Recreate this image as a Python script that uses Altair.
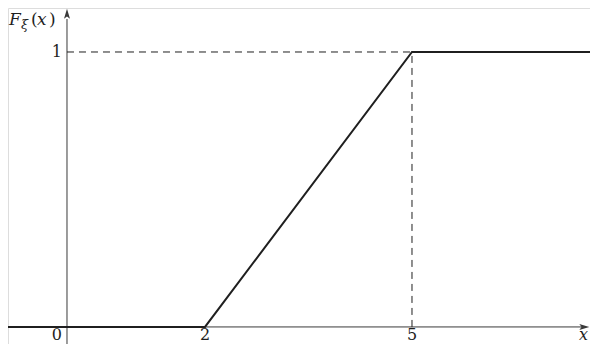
import altair as alt
import pandas as pd

# ---- data ----
X_MIN, X_MAX = -0.855, 7.58
Y_MIN, Y_MAX = -0.062, 1.16

cdf_x = [X_MIN, 2, 5, X_MAX]
cdf_y = [0, 0, 1, 1]

xtick_vals = [2, 5]
xtick_text = ["2", "5"]
origin_text = ["0"]
ytick_vals = [1]
ytick_text = ["1"]

FONT = "DejaVu Serif"
INK = "#1f1f1f"
AXIS = "#3a3a3a"

xs = alt.Scale(domain=[X_MIN, X_MAX], nice=False, zero=False)
ys = alt.Scale(domain=[Y_MIN, Y_MAX], nice=False, zero=False)


def X(f="x"):
    return alt.X(f"{f}:Q", scale=xs, axis=None)


def Y(f="y"):
    return alt.Y(f"{f}:Q", scale=ys, axis=None)


# axes lines
xaxis = alt.Chart(pd.DataFrame({"x": [X_MIN], "x2": [7.50], "y": [0]})).mark_rule(
    color=AXIS, strokeWidth=1
).encode(x=X(), x2="x2:Q", y=Y())
yaxis = alt.Chart(pd.DataFrame({"x": [0], "y": [Y_MIN], "y2": [1.12]})).mark_rule(
    color=AXIS, strokeWidth=1
).encode(x=X(), y=Y(), y2="y2:Q")

# arrowheads (tip at the given point)
arrow_r = alt.Chart(pd.DataFrame({"x": [7.57], "y": [0]})).mark_point(
    shape="M0,0 L-2,-0.6 L-1.55,0 L-2,0.6 Z", size=100, filled=True, opacity=1, color=AXIS
).encode(x=X(), y=Y())
arrow_u = alt.Chart(pd.DataFrame({"x": [0], "y": [1.157]})).mark_point(
    shape="M0,0 L-0.6,2 L0,1.55 L0.6,2 Z", size=100, filled=True, opacity=1, color=AXIS
).encode(x=X(), y=Y())

# dashed guides
hdash = alt.Chart(pd.DataFrame({"x": [0], "x2": [5], "y": [1]})).mark_rule(
    color=INK, strokeWidth=1, strokeDash=[7, 5]
).encode(x=X(), x2="x2:Q", y=Y())
vdash = alt.Chart(pd.DataFrame({"x": [5], "y": [0], "y2": [1]})).mark_rule(
    color=INK, strokeWidth=1, strokeDash=[7, 5]
).encode(x=X(), y=Y(), y2="y2:Q")

# CDF
cdf = alt.Chart(pd.DataFrame({"x": cdf_x, "y": cdf_y})).mark_line(
    color=INK, strokeWidth=2
).encode(x=X(), y=Y())

# labels
xl = alt.Chart(pd.DataFrame({"x": xtick_vals, "y": [0] * 2, "t": xtick_text})).mark_text(
    font=FONT, fontSize=16, color=INK, align="center", baseline="alphabetic", dy=13
).encode(x=X(), y=Y(), text="t:N")
ol = alt.Chart(pd.DataFrame({"x": [0], "y": [0], "t": origin_text})).mark_text(
    font=FONT, fontSize=16, color=INK, align="right", baseline="alphabetic", dx=-5, dy=13
).encode(x=X(), y=Y(), text="t:N")
yl = alt.Chart(pd.DataFrame({"x": [0], "y": ytick_vals, "t": ytick_text})).mark_text(
    font=FONT, fontSize=16, color=INK, align="right", baseline="middle", dx=-5
).encode(x=X(), y=Y(), text="t:N")
xname = alt.Chart(pd.DataFrame({"x": [X_MAX], "y": [0], "t": ["x"]})).mark_text(
    font=FONT, fontSize=16, fontStyle="italic", color=INK, align="right",
    baseline="alphabetic", dx=-2, dy=13
).encode(x=X(), y=Y(), text="t:N")

# y name: F_ξ(x)
title_parts = ["F", "ξ", "(", "x", ")"]
title_dx = [0, 12, 22, 28, 40]
title_dy = [0, 4, 0, 0, 0]
title_size = [17, 13, 17, 17, 17]
title_style = ["italic", "italic", "normal", "italic", "normal"]
yname_layers = []
for t, dx, dy, fs, st in zip(title_parts, title_dx, title_dy, title_size, title_style):
    yname_layers.append(
        alt.Chart(pd.DataFrame({"x": [-0.84], "y": [1.098], "t": [t]})).mark_text(
            font=FONT, fontSize=fs, fontStyle=st, color=INK, align="left",
            baseline="alphabetic", dx=dx, dy=dy
        ).encode(x=X(), y=Y(), text="t:N")
    )

chart = alt.layer(
    xaxis, yaxis, hdash, vdash, cdf, arrow_r, arrow_u, xl, ol, yl, xname, *yname_layers
).properties(
    width=582, height=336, padding=0, autosize=alt.AutoSizeParams(type="none")
).configure_view(stroke=None).configure(background="white")

chart.save("out.html", embed_options={"renderer": "svg", "actions": False})
